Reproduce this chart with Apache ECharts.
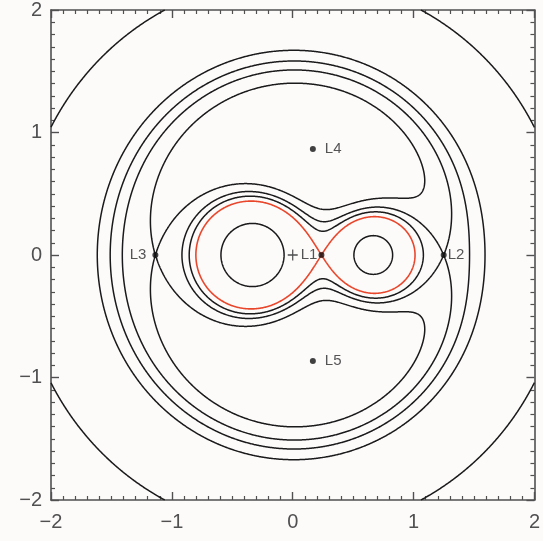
<!DOCTYPE html>
<html>
<head>
<meta charset="utf-8">
<script src="https://cdn.jsdelivr.net/npm/echarts/dist/echarts.min.js"></script>
<style>
  html, body { margin: 0; padding: 0; background: #fdfafa; }
  #chart { width: 543px; height: 541px; }
</style>
</head>
<body>
<div id="chart"></div>
<script>
// Zero-velocity curves of the circular restricted three-body problem
// (rotating frame, unit separation, centre of mass at the origin).
const massRatio = 1 / 3;                                   // mu = m2 / (m1 + m2)
const contourLevels = [6.0, 3.9456, 3.72, 3.5475, 3.3215]; // Jacobi constant C
const highlightLevel = 3.9456;                             // figure-eight through L1
const pointNames = ['L1', 'L2', 'L3', 'L4', 'L5'];
const pointX = [0.2375, 1.2491, -1.1364, 0.1667, 0.1667];
const pointY = [0, 0, 0, 0.866, -0.866];
const centreOfMass = [0, 0];
const axisTicks = [-2, -1, 0, 1, 2];

const range = [axisTicks[0], axisTicks[axisTicks.length - 1]];
const cells = 600;

function jacobi(x, y) {
  const r1 = Math.max(Math.hypot(x + massRatio, y), 1e-6);
  const r2 = Math.max(Math.hypot(x - 1 + massRatio, y), 1e-6);
  return Math.min(x * x + y * y + 2 * (1 - massRatio) / r1 + 2 * massRatio / r2, 1000);
}

// sample the field once
const W = cells + 1;
const lo = range[0], step = (range[1] - range[0]) / cells;
const field = new Float64Array(W * W);
for (let j = 0; j < W; j++)
  for (let i = 0; i < W; i++)
    field[j * W + i] = jacobi(lo + i * step, lo + j * step);

// marching squares + stitching into polylines
function traceContour(level) {
  const val = (i, j) => field[j * W + i];
  const hKey = (i, j) => (j * W + i) * 2;
  const vKey = (i, j) => (j * W + i) * 2 + 1;
  const adj = new Map();
  const link = (a, b) => {
    if (!adj.has(a)) adj.set(a, []);
    if (!adj.has(b)) adj.set(b, []);
    adj.get(a).push(b);
    adj.get(b).push(a);
  };
  for (let j = 0; j < cells; j++) {
    for (let i = 0; i < cells; i++) {
      const bl = val(i, j), br = val(i + 1, j), tr = val(i + 1, j + 1), tl = val(i, j + 1);
      const sBL = bl > level, sBR = br > level, sTR = tr > level, sTL = tl > level;
      const B = hKey(i, j), R = vKey(i + 1, j), T = hKey(i, j + 1), L = vKey(i, j);
      const cut = [];
      if (sBL !== sBR) cut.push(B);
      if (sBR !== sTR) cut.push(R);
      if (sTR !== sTL) cut.push(T);
      if (sTL !== sBL) cut.push(L);
      if (cut.length === 2) link(cut[0], cut[1]);
      else if (cut.length === 4) {
        const c = (bl + br + tr + tl) / 4 > level;
        if (sBL !== c) { link(L, B); link(R, T); }
        else { link(B, R); link(T, L); }
      }
    }
  }
  const pointOf = (key) => {
    const idx = key >> 1, vert = key & 1;
    const i = idx % W, j = Math.floor(idx / W);
    if (vert) {
      const a = val(i, j), b = val(i, j + 1);
      const t = (level - a) / (b - a);
      return [lo + i * step, lo + (j + t) * step];
    }
    const a = val(i, j), b = val(i + 1, j);
    const t = (level - a) / (b - a);
    return [lo + (i + t) * step, lo + j * step];
  };
  const used = new Set();
  const follow = (start) => {
    const path = [start];
    used.add(start);
    let cur = start;
    for (;;) {
      const nx = adj.get(cur).find(k => !used.has(k));
      if (nx === undefined) break;
      used.add(nx);
      path.push(nx);
      cur = nx;
    }
    if (path.length > 2 && adj.get(cur).includes(start)) path.push(start);
    return path;
  };
  const paths = [];
  for (const [k, nb] of adj) if (nb.length === 1 && !used.has(k)) paths.push(follow(k));
  for (const k of adj.keys()) if (!used.has(k)) paths.push(follow(k));
  return paths.map(p => p.map(pointOf));
}

const blackLines = [];
const redLines = [];
contourLevels.forEach(level => {
  traceContour(level).forEach(poly => {
    const inner = poly.every(p => Math.hypot(p[0], p[1]) < 1.3);
    if (level === highlightLevel && inner) redLines.push({ coords: poly });
    else blackLines.push({ coords: poly });
  });
});

const labelPlacement = {
  L1: { position: 'left', distance: 1 },
  L2: { position: 'right', distance: 1 },
  L3: { position: 'left', distance: 6 },
  L4: { position: 'right', distance: 9 },
  L5: { position: 'right', distance: 9 }
};
const pointData = pointNames.map((name, k) => ({
  name,
  value: [pointX[k], pointY[k]],
  label: labelPlacement[name]
}));

const minus = v => (v < 0 ? '\u2212' + (-v) : String(v));
const axisColor = '#505050';
const tickStyle = {
  axisLine: { show: true, onZero: false, lineStyle: { color: axisColor, width: 1.6 } },
  axisTick: { show: true, inside: true, length: 8, lineStyle: { color: axisColor, width: 1.4 } },
  minorTick: { show: true, splitNumber: 10, length: 4, lineStyle: { color: axisColor, width: 1.2 } },
  splitLine: { show: false },
  minorSplitLine: { show: false }
};
const makeAxis = (position, showLabel, margin) => Object.assign({
  type: 'value', position, min: range[0], max: range[1], interval: 1,
  axisLabel: {
    show: showLabel, formatter: minus, fontSize: 20, color: '#505050',
    fontFamily: 'Liberation Sans, Arial, sans-serif', margin
  }
}, tickStyle);

const chart = echarts.init(document.getElementById('chart'), null, { renderer: 'canvas' });
chart.setOption({
  backgroundColor: '#fdfafa',
  animation: false,
  grid: { left: 51, right: 6, top: 10, bottom: 41, containLabel: false },
  xAxis: [makeAxis('bottom', true, 12), makeAxis('top', false, 8)],
  yAxis: [makeAxis('left', true, 9), makeAxis('right', false, 8)],
  series: [
    {
      type: 'lines', coordinateSystem: 'cartesian2d', polyline: true, silent: true,
      data: blackLines,
      lineStyle: { color: '#1a1a1a', width: 1.5, opacity: 1 }, z: 2
    },
    {
      type: 'lines', coordinateSystem: 'cartesian2d', polyline: true, silent: true,
      data: redLines,
      lineStyle: { color: '#e8472c', width: 1.6, opacity: 1 }, z: 3
    },
    {
      type: 'scatter', silent: true, z: 5,
      data: [centreOfMass],
      symbol: 'path://M0,4.4H10V5.6H0Z M4.4,0H5.6V10H4.4Z',
      symbolSize: [10, 11], symbolKeepAspect: false,
      itemStyle: { color: '#222' }
    },
    {
      type: 'scatter', silent: true, z: 6,
      data: pointData,
      symbol: 'circle', symbolSize: 6,
      itemStyle: { color: '#111' },
      label: {
        show: true, formatter: '{b}', fontSize: 15, color: '#2a2a2a',
        fontFamily: 'Liberation Sans, Arial, sans-serif'
      }
    }
  ]
});
</script>
</body>
</html>
